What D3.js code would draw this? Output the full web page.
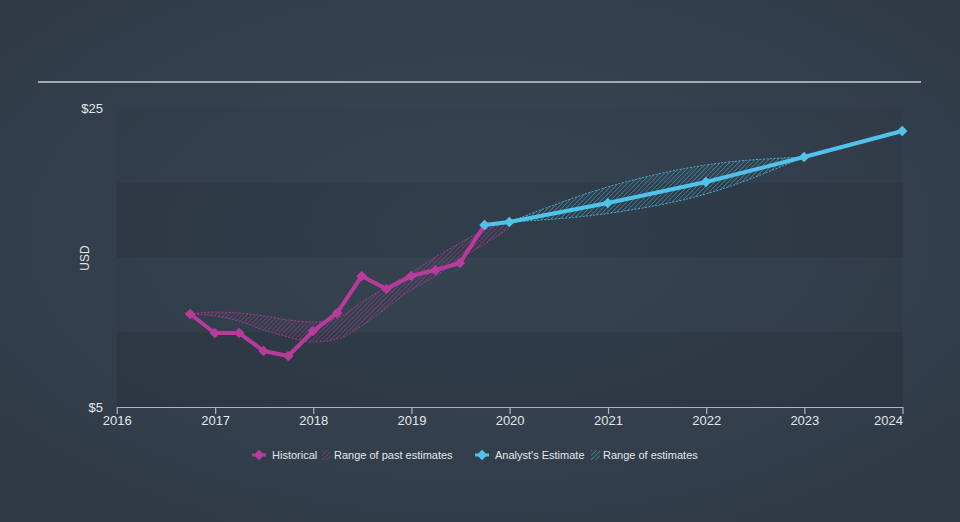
<!DOCTYPE html>
<html><head><meta charset="utf-8">
<script src="https://cdn.jsdelivr.net/npm/d3@7"></script>
<style>
html,body{margin:0;padding:0;background:#333f4c;}
svg{display:block;font-family:"Liberation Sans",Arial,sans-serif;}
</style></head>
<body>
<svg id="chart" width="960" height="522"></svg>
<script>
// ---- data ----
const histDates = ["2016-09-30","2016-12-31","2017-03-31","2017-06-30","2017-09-30","2017-12-31","2018-03-31","2018-06-30","2018-09-30","2018-12-31","2019-03-31","2019-06-30","2019-09-30"];
const histValues = [11.22,9.95,9.95,8.75,8.41,10.08,11.29,13.76,12.89,13.76,14.16,14.63,17.17];

const pastRangeDates = ["2016-09-30","2016-12-31","2017-03-31","2017-06-30","2017-09-30","2017-12-31","2018-03-31","2018-06-30","2018-09-30","2018-12-31","2019-03-31","2019-06-30","2019-09-30","2019-12-31"];
const pastRangeHigh = [11.22,11.35,11.29,11.09,10.82,10.69,10.95,12.02,13.03,13.96,15.03,15.97,16.84,17.37];
const pastRangeLow  = [11.22,11.09,10.75,10.15,9.68,9.35,9.55,10.42,11.62,12.83,13.76,14.90,15.90,16.97];

const estDates = ["2019-09-30","2019-12-31","2020-12-31","2021-12-31","2022-12-31","2023-12-31"];
const estValues = [17.17,17.37,18.65,20.05,21.72,23.46];

const estRangeDates = ["2019-12-31","2020-12-31","2021-12-31","2022-12-31"];
const estRangeHigh = [17.37,19.72,21.19,21.72];
const estRangeLow  = [17.37,17.95,19.25,21.72];

const yearTicks = [2016,2017,2018,2019,2020,2021,2022,2023,2024];
const yTicks = [5,25];
const bandRanges = [[5,10],[15,20]];

const legendItems = [
  {type:"line", color:"#b83b9c", label:"Historical"},
  {type:"hatch", color:"#b83b9c", label:"Range of past estimates", pattern:"hatchPast"},
  {type:"line", color:"#4fc3ea", label:"Analyst's Estimate"},
  {type:"hatch", color:"#4fc3ea", label:"Range of estimates", pattern:"hatchEst"}
];

// ---- setup ----
const W = 960, H = 522;
const MAG = "#b83b9c", CYAN = "#4fc3ea";
const parse = d3.timeParse("%Y-%m-%d");
const svg = d3.select("#chart");
const defs = svg.append("defs");

const grad = defs.append("radialGradient").attr("id","bg").attr("cx","50%").attr("cy","45%").attr("r","70%");
grad.append("stop").attr("offset","0%").attr("stop-color","#384654");
grad.append("stop").attr("offset","100%").attr("stop-color","#2f3a46");
svg.append("rect").attr("width",W).attr("height",H).attr("fill","url(#bg)");

function hatch(id, color){
  const p = defs.append("pattern").attr("id",id).attr("patternUnits","userSpaceOnUse")
    .attr("width",3.2).attr("height",3.2).attr("patternTransform","rotate(45)");
  p.append("line").attr("x1",0).attr("y1",0).attr("x2",0).attr("y2",3.2)
    .attr("stroke",color).attr("stroke-width",0.9).attr("stroke-opacity",0.9);
}
hatch("hatchPast", MAG);
hatch("hatchEst", CYAN);

const x = d3.scaleTime().domain([new Date(2016,0,1), new Date(2024,0,1)]).range([116.7, 902.5]);
const y = d3.scaleLinear().domain([5,25]).range([407,108]);

// plot area tint and bands
svg.append("rect").attr("x",x.range()[0]).attr("width",x.range()[1]-x.range()[0])
  .attr("y",y(25)).attr("height",y(5)-y(25)).attr("fill","rgba(0,0,0,0.02)");
svg.selectAll("rect.band").data(bandRanges).join("rect").attr("class","band")
  .attr("x",x.range()[0]).attr("width",x.range()[1]-x.range()[0])
  .attr("y",d=>y(d[1])).attr("height",d=>y(d[0])-y(d[1]))
  .attr("fill","rgba(0,0,0,0.075)");

// top rule
svg.append("line").attr("x1",38).attr("x2",921).attr("y1",82).attr("y2",82)
  .attr("stroke","#c9cdd1").attr("stroke-width",1.5);

// axes
const xAxis = d3.axisBottom(x).tickValues(yearTicks.map(yr=>new Date(yr,0,1)))
  .tickFormat(d3.timeFormat("%Y")).tickSize(7).tickSizeOuter(0);
const gx = svg.append("g").attr("transform",`translate(0,${y(5)})`).call(xAxis);
gx.select(".domain").attr("stroke","#a8b5c3").attr("stroke-width",1.2);
gx.selectAll(".tick line").attr("stroke","#a8b5c3").attr("stroke-width",1.2);
gx.selectAll(".tick text").attr("fill","#e2e6ea").attr("font-size",13).attr("y",9).attr("dy","0.71em")
  .attr("font-family","Liberation Sans, Arial, sans-serif")
  .attr("text-anchor",(d,i,n)=> i===n.length-1 ? "end" : "middle");

const yAxis = d3.axisLeft(y).tickValues(yTicks).tickFormat(d=>"$"+d).tickSize(0);
const gy = svg.append("g").attr("transform","translate(103,0)").call(yAxis);
gy.select(".domain").remove();
gy.selectAll(".tick text").attr("fill","#e2e6ea").attr("font-size",13).attr("x",0).attr("dy","0.32em")
  .attr("font-family","Liberation Sans, Arial, sans-serif");

svg.append("text").attr("transform","translate(89,258) rotate(-90)")
  .attr("text-anchor","middle").attr("fill","#e2e6ea").attr("font-size",12).text("USD");

// range areas
function rangeArea(dates, hi, lo){
  return dates.map((d,i)=>({d:parse(d),hi:hi[i],lo:lo[i]}));
}
const areaGen = d3.area().x(d=>x(d.d)).y0(d=>y(d.lo)).y1(d=>y(d.hi)).curve(d3.curveMonotoneX);
const hiGen = d3.line().x(d=>x(d.d)).y(d=>y(d.hi)).curve(d3.curveMonotoneX);
const loGen = d3.line().x(d=>x(d.d)).y(d=>y(d.lo)).curve(d3.curveMonotoneX);

function drawRange(pts, pat, color){
  svg.append("path").datum(pts).attr("d",areaGen).attr("fill",`url(#${pat})`);
  [hiGen, loGen].forEach(g=>{
    svg.append("path").datum(pts).attr("d",g).attr("fill","none")
      .attr("stroke",color).attr("stroke-width",0.9).attr("stroke-dasharray","2,1.5").attr("stroke-opacity",0.9);
  });
}
drawRange(rangeArea(pastRangeDates,pastRangeHigh,pastRangeLow),"hatchPast",MAG);
drawRange(rangeArea(estRangeDates,estRangeHigh,estRangeLow),"hatchEst",CYAN);

// lines
const lineGen = d3.line().x(d=>x(d.d)).y(d=>y(d.v));
const diamond = d3.symbol().type(d3.symbolSquare).size(56);
function drawSeries(dates, vals, color){
  const pts = dates.map((d,i)=>({d:parse(d),v:vals[i]}));
  svg.append("path").datum(pts).attr("d",lineGen).attr("fill","none")
    .attr("stroke",color).attr("stroke-width",4).attr("stroke-linejoin","round").attr("stroke-linecap","round");
  svg.append("g").selectAll("path").data(pts).join("path")
    .attr("d",diamond).attr("fill",color)
    .attr("transform",d=>`translate(${x(d.d)},${y(d.v)}) rotate(45)`);
}
drawSeries(histDates, histValues, MAG);
drawSeries(estDates, estValues, CYAN);

// legend
const legendX = [252, 322, 475, 591];
const lg = svg.append("g").attr("transform","translate(0,455)");
legendItems.forEach((it,i)=>{
  const g = lg.append("g").attr("transform",`translate(${legendX[i]},0)`);
  let tx;
  if(it.type==="line"){
    g.append("line").attr("x1",0).attr("x2",14).attr("y1",0).attr("y2",0)
      .attr("stroke",it.color).attr("stroke-width",3);
    g.append("path").attr("d",diamond).attr("fill",it.color).attr("transform","translate(7,0) rotate(45)");
    tx = 20;
  } else {
    g.append("rect").attr("x",0).attr("y",-5).attr("width",9).attr("height",10).attr("fill",`url(#${it.pattern})`);
    tx = 12;
  }
  g.append("text").attr("x",tx).attr("y",0).attr("dy","0.35em").attr("fill","#e2e6ea")
    .attr("font-size",11).text(it.label);
});
</script>
</body></html>
